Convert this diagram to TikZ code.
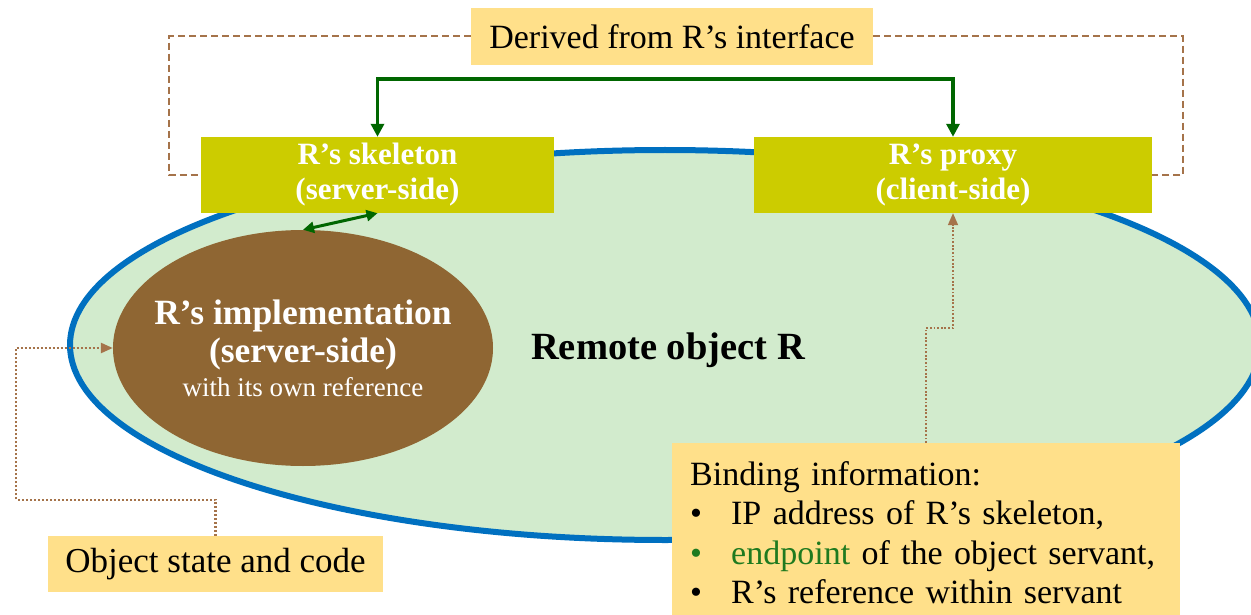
\documentclass[tikz,border=0pt]{standalone}
\usepackage{fontspec}
\setmainfont{Liberation Serif}
\usepackage{xcolor}
\usetikzlibrary{positioning, arrows.meta, shapes.geometric}

\definecolor{objgreen}{HTML}{D2EBCD}
\definecolor{objblue}{HTML}{0070C0}
\definecolor{stubolive}{HTML}{CCCC00}
\definecolor{implbrown}{HTML}{8F6633}
\definecolor{noteyellow}{HTML}{FFE08A}
\definecolor{linkgreen}{HTML}{006600}
\definecolor{endgreen}{HTML}{1F7A1F}
\definecolor{refbrown}{HTML}{A5734A}

\begin{document}
\begin{tikzpicture}[x=1pt,y=-1pt]
	\tikzstyle{stub}=[fill=stubolive,text=white,font=\fontsize{31}{35}\selectfont\bfseries,align=center,minimum height=76pt,inner sep=0pt]
	\tikzstyle{note}=[fill=noteyellow,font=\fontsize{34}{39.5}\selectfont,inner sep=0pt]
	\tikzstyle{reflink}=[refbrown,line width=2pt,dash pattern=on 7pt off 4pt]
	\tikzstyle{bindlink}=[refbrown,line width=1.8pt,dash pattern=on 1.8pt off 1.8pt,-{Triangle[length=12pt,width=10pt]}]
	\useasboundingbox (0,0) rectangle (1251,615);
	% remote object
	\draw[objblue,line width=6pt,fill=objgreen] (665,345) ellipse (595pt and 195pt);
	\node[font=\fontsize{38.5}{44}\selectfont\bfseries] (robj) at (668,350) {Remote object R};
	% stubs
	\node[stub,minimum width=353pt] (skel) at (377.5,175) {R’s skeleton\\(server-side)};
	\node[stub,minimum width=398pt] (proxy) at (953,175) {R’s proxy\\(client-side)};
	\node[note,minimum width=402pt,minimum height=57pt] (iface) at (672,36.5) {Derived from R’s interface};
	\node[ellipse,fill=implbrown,text=white,minimum width=380pt,minimum height=236pt,inner xsep=-20pt,inner ysep=0pt,align=center,font=\fontsize{35.5}{38}\selectfont\bfseries] (impl) at (303,348)
		{R’s implementation\\(server-side)\\[-4pt]{\fontsize{27}{32}\selectfont\mdseries with its own reference}};
	\node[note,minimum width=335pt,minimum height=56pt,font=\fontsize{35}{40}\selectfont] (state) at (215.5,564) {Object state and code};
	\node[note,text width=472pt,inner xsep=18pt,inner ysep=18pt,align=left,anchor=north west] (bind) at (672,443)
		{Binding information:\\
		\makebox[41pt][l]{\textbullet}IP address of R’s skeleton,\\
		\makebox[41pt][l]{\color{endgreen}\textbullet}{\color{endgreen}endpoint} of the object servant,\\
		\makebox[41pt][l]{\textbullet}R’s reference within servant};
	% connectors
	\draw[linkgreen,line width=3.5pt,{Triangle[length=13pt,width=13pt]}-{Triangle[length=13pt,width=13pt]}] (skel.north) -- ++(0,-58) -| (proxy.north);
	\draw[linkgreen,line width=3pt,{Triangle[length=11pt,width=11pt]}-{Triangle[length=11pt,width=11pt]}] (impl.north) -- (skel.south);
	\coordinate (dl) at (169,175);
	\coordinate (dr) at (1183,175);
	\draw[reflink] (iface.west) -| (dl) -- (skel.west);
	\draw[reflink] (iface.east) -| (dr) -- (proxy.east);
	\draw[bindlink,line width=2.4pt,dash pattern=on 2pt off 2pt] (state.north) -- ++(0,-36) -| (16,348) -- (impl.west);
	\draw[bindlink] (bind.north) -- ++(0,-115) -| (proxy.south);
\end{tikzpicture}
\end{document}
